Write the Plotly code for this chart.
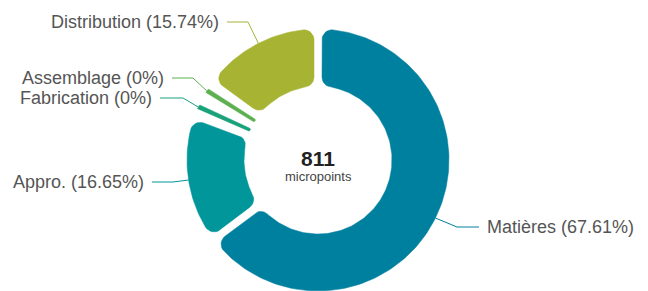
import math
import plotly.graph_objects as go

# ---------------- data ----------------
categories = ["Matières", "Appro.", "Fabrication", "Assemblage", "Distribution"]
percentages = [67.61, 16.65, 0, 0, 15.74]
total_value = 811
total_unit = "micropoints"

# ---------------- style ----------------
colors = ["#00809F", "#00969A", "#19A27A", "#5CB04F", "#A7B333"]
W, H = 648, 291
CX, CY = 318, 160
R_OUT, R_IN = 131, 74
HALF_GAP = 4
CORNER = 10
MIN_ANGLE = 8.0      # degrees reserved for zero-value slices
ZERO_WIDTH = 2.2     # degrees drawn for a zero-value slice
FONT = "Liberation Sans, Arial, sans-serif"
TEXT_COLOR = "#555555"
TEXT_GAP = 8

# label placement: elbow (x, y), line end x, side of text
label_layout = {
    "Matières": ((457, 227), 479, "left"),
    "Appro.": ((173, 182), 152, "right"),
    "Fabrication": ((183, 98), 160, "right"),
    "Assemblage": ((193, 78), 172, "right"),
    "Distribution": ((248, 22), 227, "right"),
}


def u(th):
    return (math.sin(th), -math.cos(th))


def t(th):
    return (math.cos(th), math.sin(th))


def add(a, b, k=1.0):
    return (a[0] + k * b[0], a[1] + k * b[1])


def corner_center(a, dist, off, side):
    along = math.sqrt(dist * dist - off * off)
    return add((along * u(a)[0], along * u(a)[1]), t(a), side * off)


def corner_arc(c, p_from, p_to, n=8):
    a1 = math.atan2(p_from[1] - c[1], p_from[0] - c[0])
    a2 = math.atan2(p_to[1] - c[1], p_to[0] - c[0])
    d = (a2 - a1 + math.pi) % (2 * math.pi) - math.pi
    r = math.hypot(p_from[0] - c[0], p_from[1] - c[1])
    return [(c[0] + r * math.cos(a1 + d * k / n), c[1] + r * math.sin(a1 + d * k / n))
            for k in range(n + 1)]


def circle_arc(r, th0, th1):
    n = max(2, int(abs(th1 - th0) / math.radians(1.5)) + 2)
    return [(r * u(th0 + (th1 - th0) * k / n)[0], r * u(th0 + (th1 - th0) * k / n)[1])
            for k in range(n + 1)]


def sector(a0, a1, g, cr, r0=R_IN, r1=R_OUT):
    do, di, off = r1 - cr, r0 + cr, g + cr
    c_o0 = corner_center(a0, do, off, +1)
    c_i0 = corner_center(a0, di, off, +1)
    c_o1 = corner_center(a1, do, off, -1)
    c_i1 = corner_center(a1, di, off, -1)
    e_o0, e_i0 = add(c_o0, t(a0), -cr), add(c_i0, t(a0), -cr)
    e_o1, e_i1 = add(c_o1, t(a1), cr), add(c_i1, t(a1), cr)
    th_o0, th_o1 = a0 + math.asin(off / do), a1 - math.asin(off / do)
    th_i0, th_i1 = a0 + math.asin(off / di), a1 - math.asin(off / di)
    T_o0 = (r1 * u(th_o0)[0], r1 * u(th_o0)[1])
    T_o1 = (r1 * u(th_o1)[0], r1 * u(th_o1)[1])
    T_i0 = (r0 * u(th_i0)[0], r0 * u(th_i0)[1])
    T_i1 = (r0 * u(th_i1)[0], r0 * u(th_i1)[1])
    pts = [e_i0]
    pts += corner_arc(c_o0, e_o0, T_o0)
    pts += circle_arc(r1, th_o0, th_o1)
    pts += corner_arc(c_o1, T_o1, e_o1)
    pts += corner_arc(c_i1, e_i1, T_i1)
    pts += circle_arc(r0, th_i1, th_i0)
    pts += corner_arc(c_i0, T_i0, e_i0)
    xs = [CX + p[0] for p in pts]
    ys = [CY + p[1] for p in pts]
    return xs, ys


# angular layout computed from the data
n_zero = sum(1 for p in percentages if p == 0)
avail = 360.0 - MIN_ANGLE * n_zero
tot = sum(percentages)
spans = [MIN_ANGLE if p == 0 else p / tot * avail for p in percentages]

fig = go.Figure()
annotations = []
start = 0.0
for cat, pct, span, col in zip(categories, percentages, spans, colors):
    a0, a1 = math.radians(start), math.radians(start + span)
    mid = (a0 + a1) / 2
    if pct == 0:
        hw = math.radians(ZERO_WIDTH / 2)
        xs, ys = sector(mid - hw, mid + hw, 0, 1.2)
    else:
        xs, ys = sector(a0, a1, HALF_GAP, CORNER)
    fig.add_trace(go.Scatter(x=xs, y=ys, mode="lines", fill="toself", fillcolor=col,
                             line=dict(width=0.5, color=col), hoverinfo="skip",
                             showlegend=False))
    # leader line
    (ex, ey), lx, side = label_layout[cat]
    sx, sy = CX + R_OUT * math.sin(mid), CY - R_OUT * math.cos(mid)
    fig.add_trace(go.Scatter(x=[sx, ex, lx], y=[sy, ey, ey], mode="lines",
                             line=dict(width=1, color=col), hoverinfo="skip",
                             showlegend=False))
    annotations.append(dict(
        x=lx + (TEXT_GAP if side == "left" else -TEXT_GAP), y=ey,
        xref="x", yref="y", xanchor=side, yanchor="middle",
        text=f"{cat} ({pct:g}%)", showarrow=False, borderpad=0, borderwidth=0,
        font=dict(family=FONT, size=18, color=TEXT_COLOR)))
    start += span

annotations.append(dict(x=CX, y=158, xref="x", yref="y", text=f"<b>{total_value}</b>",
                        showarrow=False, xanchor="center", yanchor="middle",
                        borderpad=0, borderwidth=0,
                        font=dict(family=FONT, size=21, color="#222222")))
annotations.append(dict(x=CX, y=176, xref="x", yref="y", text=total_unit,
                        showarrow=False, xanchor="center", yanchor="middle",
                        borderpad=0, borderwidth=0,
                        font=dict(family=FONT, size=13, color="#444444")))

fig.update_layout(
    width=W, height=H, margin=dict(l=0, r=0, t=0, b=0),
    paper_bgcolor="white", plot_bgcolor="white",
    xaxis=dict(range=[0, W], visible=False, fixedrange=True),
    yaxis=dict(range=[H, 0], visible=False, fixedrange=True),
    annotations=annotations,
)

fig.write_html("out.html", include_plotlyjs=True, config={"displayModeBar": False},
               post_script="document.body.style.margin='0';")
